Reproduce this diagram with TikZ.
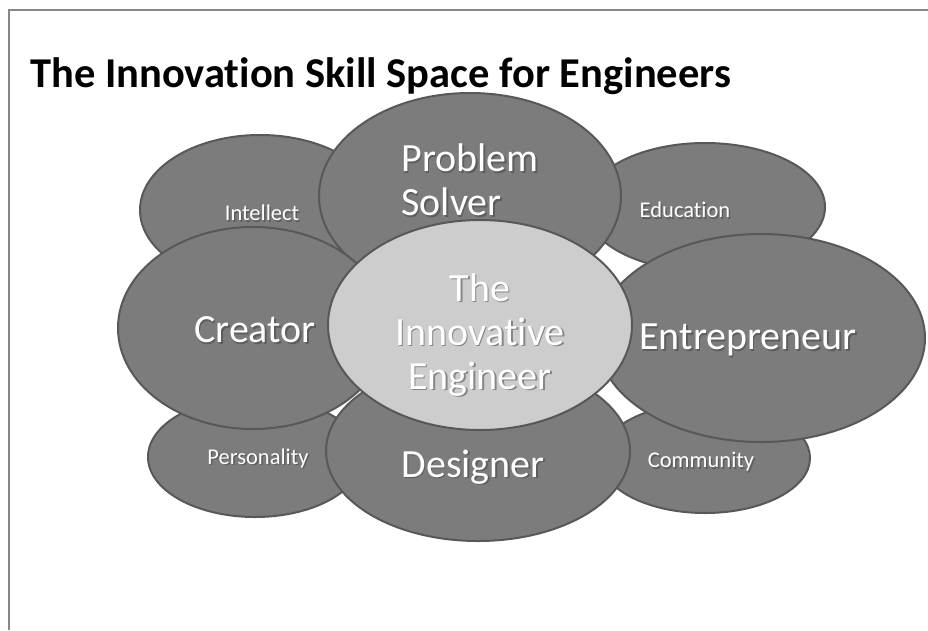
\documentclass[tikz,border=0pt]{standalone}
\usepackage{fontspec}
\setmainfont{Carlito}[Ligatures=NoCommon]
\usetikzlibrary{shapes}

\definecolor{petalfill}{RGB}{124,124,124}
\definecolor{petaledge}{RGB}{88,88,88}
\definecolor{corefill}{RGB}{205,205,205}
\definecolor{framegray}{RGB}{135,135,135}

% white label with a soft drop shadow: name, position, options, text
\newcommand{\skilltext}[4]{%
  \node[txt, #3, text=black!75, opacity=.5, xshift=1.5pt, yshift=-1.5pt] (#1-sh) at #2 {#4};
  \node[txt, #3] (#1) at #2 {#4};
}

\begin{document}
\begin{tikzpicture}[x=1pt, y=-1pt,
  petal/.style={ellipse, draw=petaledge, fill=petalfill, line width=2pt, inner sep=0pt},
  core/.style={petal, fill=corefill},
  txt/.style={text=white, inner sep=0pt, align=center},
  big/.style={font=\fontsize{40}{44}\selectfont},
  small/.style={font=\fontsize{22.5}{27}\selectfont},
  title/.style={font=\fontsize{42.5}{48}\selectfont\bfseries, inner sep=0pt}]
  \useasboundingbox (0,0) rectangle (928,630);
  \draw[framegray, line width=1.5pt] (9,630) |- (928,10);

  \node[title, anchor=base west] (title) at (30,87) {The Innovation Skill Space for Engineers};

  % back row
  \node[petal, minimum width=240pt, minimum height=150pt] (intellect) at (260,210) {};
  \node[petal, minimum width=240pt, minimum height=128pt] (education) at (705,207) {};
  \node[petal, minimum width=214pt, minimum height=120pt] (personality) at (255,457) {};
  \node[petal, minimum width=210pt, minimum height=110pt] (community) at (705,458) {};

  % front row
  \node[petal, minimum width=302pt, minimum height=206pt] (solver) at (470,196) {};
  \node[petal, minimum width=270pt, minimum height=202pt] (creator) at (253,328) {};
  \node[petal, minimum width=328pt, minimum height=208pt] (entre) at (761,338) {};
  \node[petal, minimum width=304pt, minimum height=180pt] (designer) at (478,451) {};
  \node[core, minimum width=304pt, minimum height=210pt] (engineer) at (480,325) {};

  \skilltext{intellect-t}{(262,213)}{small}{Intellect}
  \skilltext{education-t}{(685,210)}{small}{Education}
  \skilltext{personality-t}{(258,458)}{small}{Personality}
  \skilltext{community-t}{(701,462)}{small}{Community}
  \skilltext{solver-t}{(470,180)}{big, align=left}{Problem\\Solver}
  \skilltext{creator-t}{(255,330)}{big}{Creator}
  \skilltext{entre-t}{(748,340)}{big}{Entrepreneur}
  \skilltext{designer-t}{(473,467)}{big}{Designer}
  \skilltext{engineer-t}{(480,335)}{big}{The\\Innovative\\Engineer}
\end{tikzpicture}
\end{document}
